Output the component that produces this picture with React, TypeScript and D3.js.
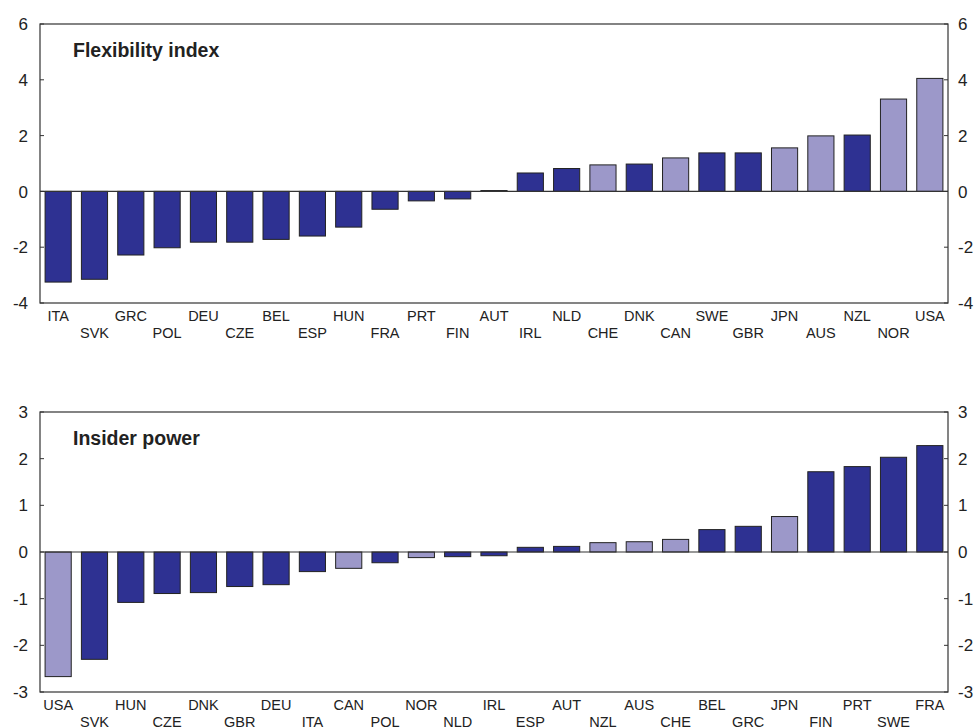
import React from "react";
import * as d3 from "d3";

const flexCountries = ["ITA","SVK","GRC","POL","DEU","CZE","BEL","ESP","HUN","FRA","PRT","FIN","AUT","IRL","NLD","CHE","DNK","CAN","SWE","GBR","JPN","AUS","NZL","NOR","USA"];
const flexValues = [-3.25,-3.15,-2.28,-2.02,-1.82,-1.82,-1.72,-1.6,-1.28,-0.64,-0.34,-0.27,0.03,0.66,0.82,0.95,0.98,1.2,1.38,1.38,1.56,1.99,2.02,3.31,4.05];
const flexLight = ["CHE","CAN","JPN","AUS","NOR","USA"];
const flexTicks = [-4,-2,0,2,4,6];

const insCountries = ["USA","SVK","HUN","CZE","DNK","GBR","DEU","ITA","CAN","POL","NOR","NLD","IRL","ESP","AUT","NZL","AUS","CHE","BEL","GRC","JPN","FIN","PRT","SWE","FRA"];
const insValues = [-2.67,-2.3,-1.08,-0.89,-0.87,-0.74,-0.7,-0.42,-0.35,-0.23,-0.12,-0.1,-0.08,0.1,0.12,0.2,0.22,0.27,0.48,0.55,0.76,1.72,1.83,2.03,2.28];
const insLight = ["USA","CAN","NOR","NZL","AUS","CHE","JPN"];
const insTicks = [-3,-2,-1,0,1,2,3];

const DARK = "#2e3192";
const LIGHT = "#9c98c9";
const AXIS = "#333333";
const FONT = "'Liberation Sans', Arial, sans-serif";

const X0 = 40;
const X1 = 948;

function Panel({ title, countries, values, light, ticks, yTop, yBottom }: any) {
  const x = d3.scaleBand<string>().domain(countries).range([X0, X1]).paddingInner(0.28).paddingOuter(0.14);
  const y = d3.scaleLinear().domain([ticks[0], ticks[ticks.length - 1]]).range([yBottom, yTop]);
  const y0 = y(0);
  return (
    <g>
      {countries.map((c: string, i: number) => {
        const v = values[i];
        const top = Math.min(y(v), y0);
        const h = Math.abs(y(v) - y0);
        return (
          <rect key={c} x={x(c)} y={top} width={x.bandwidth()} height={Math.max(h, 0.5)}
            fill={light.includes(c) ? LIGHT : DARK} stroke="#222" strokeWidth={1} />
        );
      })}
      <line x1={X0} x2={X1} y1={y0} y2={y0} stroke={AXIS} strokeWidth={1.2} />
      <rect x={X0} y={yTop} width={X1 - X0} height={yBottom - yTop} fill="none" stroke={AXIS} strokeWidth={1.2} />
      {ticks.map((t: number) => (
        <g key={t}>
          <line x1={X0} x2={X0 + 4} y1={y(t)} y2={y(t)} stroke={AXIS} strokeWidth={1} />
          <line x1={X1 - 4} x2={X1} y1={y(t)} y2={y(t)} stroke={AXIS} strokeWidth={1} />
          <text x={28} y={y(t)} dy="0.36em" textAnchor="end" fontSize={17} fontFamily={FONT} fill="#222">{t}</text>
          <text x={958} y={y(t)} dy="0.36em" textAnchor="start" fontSize={17} fontFamily={FONT} fill="#222">{t}</text>
        </g>
      ))}
      {countries.map((c: string, i: number) => (
        <text key={"l" + c} x={(x(c) as number) + x.bandwidth() / 2} y={yBottom + (i % 2 === 0 ? 17.5 : 34.5)}
          textAnchor="middle" fontSize={14.5} fontFamily={FONT} fill="#222">{c}</text>
      ))}
      <text x={73} y={yTop + 33} fontSize={19.5} fontWeight="bold" fontFamily={FONT} fill="#222">{title}</text>
    </g>
  );
}

export default function App() {
  return (
    <svg width={976} height={727} style={{ position: "absolute", left: 0, top: 0, background: "#fff" }}>
      <rect width={976} height={727} fill="#fff" />
      <Panel title="Flexibility index" countries={flexCountries} values={flexValues} light={flexLight} ticks={flexTicks} yTop={24} yBottom={303} />
      <Panel title="Insider power" countries={insCountries} values={insValues} light={insLight} ticks={insTicks} yTop={412} yBottom={692} />
    </svg>
  );
}
